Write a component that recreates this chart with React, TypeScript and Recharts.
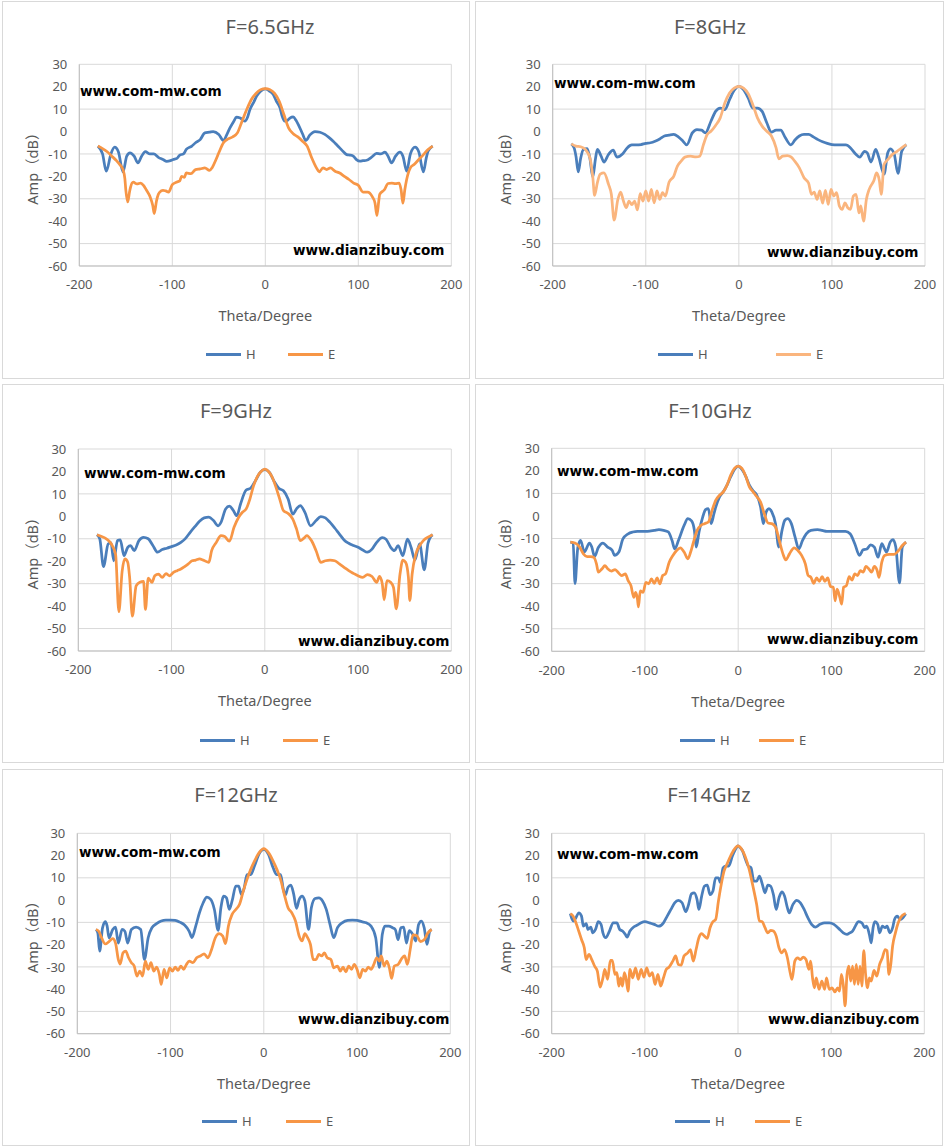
import { LineChart, Line, XAxis, YAxis, CartesianGrid } from 'recharts';

const THETA_TICKS = [-200, -100, 0, 100, 200];
const AMP_TICKS = [-60, -50, -40, -30, -20, -10, 0, 10, 20, 30];

// [theta (deg), amplitude (dB)]
const h65: number[][] = [
  [-180, -6.5], [-175, -10], [-171, -17.7], [-166, -10], [-162, -7], [-158, -9], [-153, -18], [-149, -11],
  [-145.5, -9.5], [-141, -11], [-137, -14], [-133, -11], [-129, -9], [-124, -10], [-120, -10], [-115, -11.5],
  [-110, -12.5], [-106, -13.3], [-102, -13], [-99, -12.5], [-95, -12], [-92, -10.5], [-88, -10], [-85, -8],
  [-79, -6.5], [-75, -5], [-70, -3.6], [-65, -0.6], [-60, -0.3], [-56, 0], [-50, -1.3], [-45, -4], [-41, -1],
  [-38, 1.6], [-34, 4.5], [-31, 6.4], [-27, 6], [-22, 4.6], [-19, 6.5], [-16.5, 9.8], [-12, 13.5], [-9.3, 15.8],
  [-5, 18], [0, 19], [4, 18.2], [8.6, 16.5], [12, 13.5], [15.8, 10.6], [18, 7], [21, 4.6], [24, 5], [26.5, 6],
  [30, 6.5], [33, 5], [35.5, 3.1], [40, -1], [43.7, -4], [48, -1.5], [53.4, 0], [58.8, -0.3], [64, -1.3],
  [68, -2.5], [73, -4.3], [77, -6], [80, -7.3], [84, -9], [87.5, -10.3], [91, -10.5], [94.6, -11], [98, -12.5],
  [101.8, -13.2], [105, -13], [109, -12.8], [114, -11.5], [119.7, -9.8], [124, -10], [128.7, -9.2], [132, -11],
  [135.8, -14], [140, -11], [144.8, -9.2], [148, -11], [152, -17.7], [156, -10], [161, -7], [165, -9], [170, -18],
  [173, -12], [175, -8.8], [180, -6.5],
];
const e65: number[][] = [
  [-180, -6.5], [-175, -7.6], [-170, -9], [-165, -11], [-160, -13], [-156, -15], [-153, -17], [-151, -21],
  [-150, -26], [-148, -31.4], [-146, -27], [-145, -25], [-142, -22.6], [-138, -23.4], [-134, -23], [-131, -24],
  [-128, -26], [-124, -29], [-121, -33], [-119.4, -36.6], [-117, -31], [-115, -28], [-112, -26.5], [-110, -26.2],
  [-107, -26.5], [-104, -27], [-100, -23.7], [-95, -22.5], [-92, -22], [-90, -20], [-87, -20.5], [-85, -18.5],
  [-80, -18.8], [-75, -17], [-70, -16.7], [-65, -16.2], [-60, -17.3], [-57, -16], [-53, -12.5], [-50, -9.5],
  [-45, -5], [-40, -3.3], [-35, -2.4], [-30, -0.6], [-25, 4.6], [-20, 9.8], [-15, 14.3], [-10, 17], [-5, 18.7],
  [0, 19.2], [5, 18.7], [10, 17], [15, 13.5], [20, 7.6], [25, 1.6], [30, -1], [35, -2.4], [40, -4.3], [45, -6.5],
  [50, -11.8], [55, -16.2], [58, -18], [62, -16.2], [66, -17], [70, -16.2], [75, -17.7], [80, -18.5], [85, -20],
  [90, -21.4], [95, -23], [100, -24], [105, -27], [110, -27], [115, -29], [118, -32], [120, -37.5], [122, -31],
  [123, -28], [128, -26], [132, -23.2], [136, -23], [140, -23.2], [144, -23], [146, -26], [148, -32], [150, -26],
  [152, -21.4], [156, -16.2], [160, -14.7], [165, -12.5], [170, -10.3], [175, -8], [180, -6.5],
];

const h8: number[][] = [
  [-180, -5.5], [-177, -7.3], [-175, -11], [-172.5, -18], [-170, -12], [-167, -8], [-163, -7.6], [-160, -12],
  [-157, -20.3], [-154, -12], [-152, -8], [-148, -11], [-145, -13.6], [-140, -10.2], [-135, -8.3], [-131, -11.4],
  [-125, -10], [-120, -7.3], [-115, -6], [-110, -6], [-105, -5.8], [-100, -5.3], [-95, -5], [-90, -4.3],
  [-85, -3.3], [-80, -2], [-75, -1.6], [-70, -1.3], [-65, -2.4], [-60, -4.3], [-56, -6], [-50, -0.6], [-45, 0.9],
  [-40, 0.6], [-36, -0.6], [-30, 4.6], [-25, 9], [-20, 10.5], [-15, 9.8], [-10, 14.2], [-5, 18.4], [0, 20.2],
  [5, 18.7], [10, 15], [15, 10.5], [20, 10.5], [25, 9], [30, 3.9], [35, -0.3], [40, 0.6], [45, 0.6], [50, -2.8],
  [56, -6], [60, -3.9], [65, -2], [70, -1.3], [75, -1.3], [80, -2.4], [85, -3.6], [90, -4.6], [95, -5.3],
  [100, -5.8], [105, -6], [110, -6], [115, -6], [120, -7.3], [125, -9.8], [130, -11.4], [135, -8.8], [138, -9.5],
  [142, -13.6], [147, -8], [150, -11], [156, -19], [160, -9.5], [163, -7.7], [167, -10.2], [171, -18.7],
  [175, -8.8], [180, -5.8],
];
const e8: number[][] = [
  [-180, -5.5], [-175, -6.5], [-170, -6.8], [-165, -8], [-160, -11.7], [-157, -20], [-155, -28.5], [-152, -22.8],
  [-149, -19], [-145, -18.5], [-140, -23.6], [-137, -28], [-134, -39.5], [-130, -30.3], [-127, -27], [-124, -31],
  [-121, -34], [-118, -31], [-115, -32.6], [-112, -31], [-109, -35], [-106, -27.7], [-103, -31], [-100, -26.5],
  [-97, -31], [-94, -25.8], [-91, -31.8], [-88, -26.5], [-85, -30.3], [-82, -27.3], [-79, -28.8], [-75, -22.6],
  [-70, -20], [-66, -15.4], [-62, -13.2], [-58, -11.4], [-52, -11], [-46, -11.3], [-42, -11], [-38, -5.8],
  [-34, -1.3], [-30, 0.1], [-25, 2.7], [-20, 6.1], [-15, 12.8], [-10, 17.2], [-5, 19.4], [0, 20.2], [5, 19.4],
  [10, 16.9], [15, 12], [20, 6.1], [25, 2.4], [30, 0.1], [35, -2], [40, -7.3], [43, -12.2], [47, -11], [52, -10.7],
  [56, -11.3], [60, -13.2], [65, -16.2], [70, -20.6], [75, -23.1], [78, -28], [81, -27], [84, -30.3], [87, -26.5],
  [90, -32], [93, -26.2], [96, -32.5], [99, -25.8], [102, -28.8], [105, -27.3], [108, -33.2], [111, -34.7],
  [114, -31.8], [117, -34], [120, -34.7], [123, -28.8], [126, -28], [129, -36.3], [131, -33.2], [134, -40],
  [137, -30.3], [140, -25.8], [145, -22], [148, -18.5], [151, -22], [153, -28], [156, -14.7], [160, -12.5],
  [165, -10.2], [170, -8.8], [175, -7.3], [180, -5.8],
];

const h9: number[][] = [
  [-180, -8.2], [-177, -10], [-173, -22.4], [-168, -12.3], [-165, -11.7], [-162, -19.8], [-158, -10.8],
  [-155, -10.5], [-151, -17.5], [-147, -13.8], [-144, -13], [-140, -15.3], [-135, -10.8], [-130, -9.4],
  [-125, -10], [-120, -13], [-115, -16], [-110, -14.8], [-105, -14.2], [-100, -13.5], [-95, -12.8], [-90, -11.6],
  [-85, -9.8], [-80, -7.1], [-75, -4.6], [-70, -2.2], [-65, -0.7], [-60, -0.4], [-55, -1.9], [-50, -4.2],
  [-47, -2.7], [-42, 3.3], [-38, 4.5], [-34, 2.8], [-30, 0.3], [-26, 5.5], [-20, 11.7], [-15, 12.6], [-10, 15.9],
  [-5, 19.6], [0, 20.8], [5, 19.6], [10, 15.6], [15, 12.5], [20, 11.4], [25, 7.7], [30, 1], [34, 3.3], [38, 4.8],
  [43, 1.8], [49, -4.2], [55, -1.9], [60, -0.1], [65, -0.7], [70, -2.7], [75, -5.2], [80, -7.9], [85, -10.5],
  [90, -12], [95, -13], [100, -13.8], [105, -15], [110, -16], [115, -14.6], [120, -11.6], [126, -9.5],
  [130, -10.2], [135, -13.8], [139, -15.3], [143, -13], [148, -17.5], [153, -10.2], [157, -14], [161, -19.5],
  [166, -12.3], [171, -23.8], [175, -12], [178, -9], [180, -8.2],
];
const e9: number[][] = [
  [-180, -8.2], [-175, -9], [-170, -10], [-165, -12], [-160, -17], [-156.5, -42.5], [-153, -24.5], [-150, -19],
  [-147, -20.5], [-145, -27], [-142, -44.5], [-138, -31], [-134, -29.4], [-130, -29], [-128, -41.5],
  [-125, -27.5], [-121, -29.4], [-118, -26.5], [-114, -25.7], [-110, -27.2], [-106, -25.5], [-102, -26.5],
  [-98, -25], [-94, -24.2], [-90, -23.5], [-86, -22.4], [-82, -21.2], [-78, -19.8], [-74, -19.5], [-70, -19],
  [-66, -19.5], [-60, -20.5], [-57, -15.3], [-52, -11.6], [-47, -8.6], [-43, -9], [-38, -11.1], [-33, -4.9],
  [-28, -0.4], [-24, 1.8], [-20, 3.3], [-16, 7.7], [-12, 13.7], [-8, 17.7], [-4, 20], [0, 21], [4, 20], [8, 17.4],
  [12, 12.9], [16, 7.7], [20, 2.5], [25, 1.3], [30, -1.2], [34, -5.6], [38, -10.8], [42, -9.7], [45, -8.6],
  [50, -10.8], [55, -15.3], [60, -20.5], [65, -19.8], [70, -19.5], [75, -19.8], [80, -21.2], [85, -22.7],
  [90, -24.2], [95, -25.4], [100, -26.5], [105, -27.2], [110, -26], [115, -26.8], [120, -29.4], [123, -26.8],
  [126, -30.1], [128, -37.2], [131, -28.6], [135, -29.4], [138, -31.6], [141, -41.2], [145, -25.7], [148, -19.5],
  [151, -20.5], [154, -27.2], [155.5, -37.5], [158, -25.7], [162, -16.8], [166, -13.1], [170, -10.8],
  [175, -9.3], [180, -8.2],
];

const h10: number[][] = [
  [-180, -11.6], [-177, -12], [-175, -30], [-172, -14], [-169, -10.8], [-165, -16], [-159.5, -12], [-157, -13.8],
  [-154, -18], [-150, -14], [-145, -12], [-140, -13.8], [-135, -15.3], [-132.6, -17.5], [-128, -16],
  [-123.6, -10.2], [-118, -7.9], [-113, -7.1], [-108, -6.8], [-100, -6.8], [-95, -6.7], [-90, -6.4], [-85, -6.1],
  [-80, -6.4], [-75, -7.1], [-71, -10.8], [-68, -14.6], [-64, -10.8], [-58, -4.2], [-54, -1.2], [-50, -2.2],
  [-47, -6.4], [-45, -13.8], [-42, -7.1], [-38, -0.4], [-35, 2.8], [-32, 3.3], [-29, -3.4], [-26, 1], [-24, 4],
  [-20, 8.5], [-16, 10.7], [-12, 13.7], [-8, 17.4], [-4, 20.6], [0, 22.1], [4, 20.6], [8, 17.7], [12, 13.7],
  [16, 11.1], [20, 9.2], [24, 4], [27, -3.4], [30, 1.8], [33, 3.3], [36, 1.8], [40, -3.4], [43.5, -13.8],
  [47, -6.4], [50, -1.9], [53, -1.2], [57, -3.4], [61, -9.4], [65, -14.6], [69, -10.8], [73, -7.9], [78, -6.4],
  [85, -6.1], [90, -6.4], [95, -6.8], [100, -6.8], [105, -6.8], [110, -6.8], [115, -6.8], [120, -7.9],
  [125, -12.3], [130, -17.5], [134, -15], [138, -14.6], [142, -12.8], [146, -13.8], [150, -18.3], [154, -12.3],
  [157, -14.6], [159, -16], [163, -11.6], [166, -10.5], [169, -13.8], [173, -29.7], [176, -13.8], [180, -11.6],
];
const e10: number[][] = [
  [-180, -11.6], [-175, -12], [-170, -13.8], [-166, -16.8], [-162, -18], [-158, -18], [-155, -18.3],
  [-152, -21.2], [-150, -24.9], [-146, -23.4], [-143, -22], [-140, -23.4], [-136, -24.4], [-132, -23.8],
  [-128, -25.4], [-125, -26.4], [-121, -25.7], [-118, -28.7], [-115, -30.9], [-112, -36.1], [-110, -33.9],
  [-108, -36.9], [-107, -40.3], [-105, -33.2], [-102, -33.9], [-99, -29.4], [-96, -30.1], [-93, -27.9],
  [-90, -29.9], [-87, -27.5], [-84, -30.1], [-81, -26.4], [-78, -25.7], [-74, -20.5], [-70, -17.5], [-66, -15.3],
  [-62, -14.1], [-58, -16], [-54, -19], [-51, -16], [-48, -11.6], [-44, -6.4], [-40, -4.2], [-36, -3.4],
  [-32, -2.7], [-28, 2.5], [-24, 7], [-20, 9.2], [-16, 10.7], [-12, 13.7], [-8, 18.1], [-4, 21.1], [0, 22.1],
  [4, 21.1], [8, 17.7], [12, 12.9], [16, 10.7], [20, 8.5], [24, 6.2], [28, 1], [32, -3.1], [36, -3.4], [40, -4.9],
  [44, -10.8], [48, -16.8], [51, -19.5], [55, -16.8], [60, -14.1], [64, -15.3], [68, -17.5], [72, -21.2],
  [75, -26.4], [78, -27.2], [81, -29.9], [84, -27.5], [87, -29], [90, -26.9], [93, -29], [96, -27.5], [99, -31.3],
  [102, -31.6], [104, -37.6], [106, -32.4], [109, -36.1], [111, -39.1], [113, -31.6], [116, -30.9], [119, -26.9],
  [122, -28.4], [125, -25.7], [128, -26.4], [131, -24.2], [134, -24.9], [137, -22.4], [140, -23.4], [143, -24.9],
  [146, -22.4], [149, -24.2], [151, -27.2], [154, -20.5], [157, -17.5], [162, -17], [167, -17], [172, -15.3],
  [176, -13.1], [180, -11.6],
];

const h12: number[][] = [
  [-180, -13.2], [-178, -14.7], [-176, -22.9], [-173, -12.6], [-170, -9.7], [-168, -11.7], [-166, -17],
  [-162, -13.2], [-159, -12.1], [-156, -19.3], [-152, -13.2], [-149, -14], [-146, -19.3], [-142, -13.2],
  [-137, -12.1], [-132, -13.2], [-128, -26.7], [-124, -16.9], [-120, -12.4], [-115, -10.6], [-110, -9.4],
  [-105, -9], [-100, -9], [-95, -9.1], [-90, -9.9], [-85, -11.2], [-80, -14], [-77, -16.8], [-73, -11.7],
  [-69, -5.7], [-65, -1.2], [-61, 1.3], [-57, 0.3], [-53, -4.2], [-49, -13.6], [-46, -3.4], [-43, 1.8], [-40, 1],
  [-37, -4.2], [-34, -0.4], [-30, 6.3], [-27, 6.3], [-24, 2.5], [-21, 5.5], [-18, 11.4], [-14, 11.4], [-10, 15.3],
  [-5, 20.8], [0, 22.8], [5, 20.5], [10, 14.5], [14, 11.4], [18, 11.4], [21, 4.8], [23, 2.2], [26, 5.8], [29, 6.7],
  [32, 2.8], [35, -3.7], [38, 0.3], [41, 1.8], [44, -0.4], [48, -13.2], [51, -3.4], [55, 0.7], [59, 1], [63, -0.4],
  [67, -4.2], [71, -10.9], [75, -16.9], [79, -12.4], [84, -10.2], [90, -9.1], [95, -9], [100, -9.1], [105, -9.7],
  [110, -10.2], [115, -11.7], [120, -16.9], [124, -30.2], [127, -15.6], [130, -11.7], [134, -11.7], [138, -12.4],
  [141, -13.2], [144, -17.8], [147, -12.4], [150, -12.1], [153, -19.3], [156, -13.7], [160, -15.6], [163, -18.4],
  [166, -11], [169, -9.4], [172, -12.4], [175, -19.9], [178, -14], [180, -13.2],
];
const e12: number[][] = [
  [-180, -13.2], [-177, -14], [-174, -16.9], [-170, -19.7], [-166, -18.6], [-162, -17.3], [-159, -19.3],
  [-156, -26.7], [-154, -28.7], [-151, -23.7], [-148, -22.9], [-145, -25.9], [-142, -28.1], [-139, -29.6],
  [-136, -34.1], [-133, -31.9], [-130, -34.1], [-127, -27.4], [-124, -31.1], [-121, -28.1], [-118, -31.9],
  [-115, -30.1], [-112, -33.4], [-110, -37.9], [-107, -31.1], [-104, -34.9], [-101, -30.4], [-98, -31.9],
  [-95, -30.1], [-92, -31.6], [-89, -29.6], [-86, -31.1], [-83, -28.9], [-80, -27.4], [-76, -28.1], [-72, -25.9],
  [-68, -25.1], [-64, -24.1], [-60, -25.9], [-56, -22.2], [-52, -16.9], [-48, -15.1], [-44, -16.2], [-41, -19.6],
  [-38, -11.7], [-34, -6.4], [-30, -4.2], [-26, -1.9], [-22, 4], [-18, 9.3], [-14, 13.8], [-10, 17.5], [-5, 21.3],
  [0, 23.1], [5, 21.3], [10, 17.5], [14, 13.8], [18, 9.3], [22, 2.5], [26, -3.4], [30, -5.7], [34, -9.4],
  [38, -16.2], [41, -18.3], [44, -15.1], [47, -16.9], [50, -19.9], [53, -26.7], [56, -26.7], [59, -24.4],
  [62, -25.1], [65, -23.7], [68, -25.9], [72, -26.7], [75, -30.4], [79, -29.6], [82, -31.9], [85, -30.1],
  [88, -32.2], [91, -29.6], [94, -31.1], [97, -28.9], [100, -31.1], [103, -34.9], [106, -31.1], [109, -31.9],
  [112, -30.1], [115, -31.1], [118, -28.9], [121, -25.9], [124, -27.4], [126, -25.1], [129, -29.6], [132, -27.4],
  [135, -31.1], [137, -35.2], [140, -29.6], [144, -28.9], [148, -26.2], [151, -25.1], [154, -28.9], [157, -22.2],
  [160, -15.6], [164, -15.9], [168, -18.6], [172, -17.8], [176, -14.7], [180, -13.2],
];

const h14: number[][] = [
  [-180, -6.1], [-177, -9.4], [-174, -7.9], [-171, -5.7], [-168, -7.2], [-166, -11.7], [-163, -10.6],
  [-161, -13.2], [-158, -12.1], [-156, -14.7], [-153, -13.2], [-150, -9.7], [-147, -10.9], [-145, -14.7],
  [-142, -16.9], [-138, -13.9], [-134, -10.2], [-130, -10.2], [-127, -13.2], [-124, -13.9], [-121, -15.4],
  [-119, -16.6], [-116, -13.9], [-112, -12.1], [-108, -11.2], [-104, -10.2], [-100, -9.7], [-95, -10.2],
  [-90, -10.9], [-85, -11.7], [-80, -10.2], [-76, -7.2], [-72, -4.2], [-68, -1.2], [-64, -0.1], [-60, -1.2],
  [-56, -5.2], [-53, -1.9], [-50, 2.8], [-47, 3.3], [-44, 0.3], [-42, -4.2], [-39, 1.8], [-36, 6.3], [-33, 6.7],
  [-30, 2.5], [-27, 4], [-24, 10], [-21, 10], [-19, 7.8], [-16, 14.5], [-13, 15.3], [-10, 15.3], [-6, 19.8],
  [-3, 22.6], [0, 24.3], [3, 23.2], [5, 22], [8, 18.3], [11, 15.3], [14, 14.5], [17, 8.5], [20, 8.5], [23, 10.8],
  [26, 7.3], [29, 3.3], [32, 6.7], [35, 6.3], [38, 2.5], [41, -4.2], [44, 1], [47, 3.7], [50, 1.8], [53, -3.4],
  [55, -5.7], [59, -1.9], [63, -0.1], [67, -1.2], [71, -4.2], [75, -7.9], [79, -10.9], [83, -12.1], [88, -10.9],
  [93, -10.2], [98, -10.2], [103, -10.9], [108, -12.7], [113, -14.7], [117, -15.4], [120, -14.7], [123, -13.9],
  [126, -11.7], [129, -9.7], [133, -10.2], [136, -12.4], [138, -11.7], [141, -15.4], [143, -19.2], [145, -12.4],
  [147, -9.7], [150, -10.9], [152, -14.7], [155, -11.7], [158, -12.4], [160, -11.7], [163, -14.7], [166, -12.4],
  [168, -8.7], [171, -7.2], [174, -8.7], [177, -7.9], [180, -6.1],
];
const e14: number[][] = [
  [-180, -6.1], [-177, -7.2], [-174, -10.2], [-171, -13.9], [-168, -17.7], [-165, -21.4], [-163, -26.7],
  [-160, -24.4], [-157, -26.7], [-154, -29.6], [-151, -31.9], [-148, -39.1], [-145, -34.9], [-143, -31.1],
  [-140, -35.6], [-137, -27.1], [-135, -27.1], [-132, -33.4], [-130, -32.6], [-128, -38.6], [-126, -34.9],
  [-124, -38.6], [-122, -32.6], [-120, -35.6], [-118, -40.9], [-116, -31.1], [-113, -34.9], [-110, -30.4],
  [-107, -35.6], [-104, -31.1], [-101, -34.6], [-98, -30.4], [-95, -34.1], [-92, -32.6], [-89, -37.9],
  [-86, -33.4], [-83, -38.6], [-80, -34.9], [-77, -31.1], [-74, -30.1], [-70, -27.4], [-67, -25.1], [-64, -28.9],
  [-61, -29.2], [-58, -25.1], [-54, -23.7], [-51, -22.2], [-48, -27.4], [-45, -22.2], [-42, -16.9], [-39, -15.1],
  [-36, -16.2], [-33, -17.2], [-30, -12.4], [-27, -9.7], [-24, -8.7], [-21, -0.4], [-18, 7], [-15, 13], [-12, 16],
  [-8, 19.8], [-4, 22.8], [0, 24.3], [4, 22.8], [8, 19.3], [12, 13.8], [16, 6.3], [20, -1.9], [23, -9.4],
  [26, -9.7], [29, -12.4], [32, -14.7], [35, -13.6], [38, -13.9], [41, -16.2], [44, -21.4], [47, -23.7],
  [50, -22.2], [53, -25.9], [56, -32.6], [58, -35.6], [61, -27.4], [64, -25.9], [67, -26.7], [70, -25.6],
  [73, -26.7], [76, -31.1], [78, -27.4], [80, -34.9], [82, -39.4], [84, -34.9], [87, -40.1], [90, -36.4],
  [93, -40.1], [95, -34.9], [98, -40.1], [101, -39.4], [104, -41.2], [107, -39.4], [109, -40.9], [111, -33.4],
  [113, -37.9], [115, -47.5], [117, -33.4], [119, -29.6], [121, -36.4], [123, -29.6], [125, -37.9], [127, -28.9],
  [129, -37.9], [131, -29.6], [133, -38.6], [135, -22.7], [137, -33.4], [139, -39.4], [141, -34.9], [143, -36.4],
  [146, -31.6], [149, -34.1], [152, -28.9], [155, -25.9], [158, -22.2], [160, -22.7], [162, -33.4], [164, -28.9],
  [166, -20.6], [169, -14.7], [172, -10.2], [175, -7.6], [178, -6.4], [180, -6.1],
];

const BLUE = '#4A7EBB';
const ORANGE = '#F79646';
const PEACH = '#FAB57E';
const GRID = '#d9d9d9';
const AXIS = '#bfbfbf';
const TEXT = '#595959';
const FONT = '"Noto Sans", "Noto Sans CJK SC", sans-serif';
const MARK_FONT = '"DejaVu Sans", Verdana, sans-serif';

const toPoints = (pairs: number[][]) => pairs.map(([t, v]) => ({ t, v }));

// layout in page pixels: panel box, plot rectangle, title centre, watermarks, legend
const panels = [
  {
    title: 'F=6.5GHz', h: h65, e: e65, eColor: ORANGE,
    box: { x: 2, y: 1, w: 468, h: 378 }, plot: { l: 79.3, t: 64.3, r: 451.3, b: 266 },
    titleX: 270, titleY: 27, markA: { x: 80, y: 91 }, markB: { x: 293, y: 250 }, legend: { hx: 206, ex: 288, y: 354 },
  },
  {
    title: 'F=8GHz', h: h8, e: e8, eColor: PEACH,
    box: { x: 475, y: 1, w: 469, h: 378 }, plot: { l: 552.7, t: 64.3, r: 925, b: 266 },
    titleX: 710, titleY: 27, markA: { x: 554, y: 83 }, markB: { x: 767, y: 252 }, legend: { hx: 658, ex: 776, y: 354 },
  },
  {
    title: 'F=9GHz', h: h9, e: e9, eColor: ORANGE,
    box: { x: 2, y: 384, w: 468, h: 379 }, plot: { l: 78.3, t: 449, r: 451.3, b: 651 },
    titleX: 236, titleY: 411, markA: { x: 84, y: 473 }, markB: { x: 298, y: 641 }, legend: { hx: 200, ex: 283, y: 740 },
  },
  {
    title: 'F=10GHz', h: h10, e: e10, eColor: ORANGE,
    box: { x: 475, y: 384, w: 469, h: 379 }, plot: { l: 551.7, t: 448.3, r: 924.7, b: 651.3 },
    titleX: 710, titleY: 411, markA: { x: 557, y: 471 }, markB: { x: 767, y: 639 }, legend: { hx: 680, ex: 759, y: 740 },
  },
  {
    title: 'F=12GHz', h: h12, e: e12, eColor: ORANGE,
    box: { x: 2, y: 769, w: 468, h: 377 }, plot: { l: 77.3, t: 833.3, r: 450.3, b: 1033.7 },
    titleX: 236, titleY: 795, markA: { x: 79, y: 852 }, markB: { x: 298, y: 1019 }, legend: { hx: 202, ex: 286, y: 1121 },
  },
  {
    title: 'F=14GHz', h: h14, e: e14, eColor: ORANGE,
    box: { x: 475, y: 769, w: 468, h: 377 }, plot: { l: 551.7, t: 833.3, r: 924.3, b: 1033.7 },
    titleX: 709, titleY: 795, markA: { x: 557, y: 854 }, markB: { x: 768, y: 1019 }, legend: { hx: 675, ex: 755, y: 1121 },
  },
];

const X_AXIS_H = 40;

const Panel = ({ spec }: { spec: (typeof panels)[number] }) => {
  const { box, plot } = spec;
  const ox = box.x + 1;
  const oy = box.y + 1;
  const innerW = box.w - 2;
  const innerH = box.h - 2;
  const margin = {
    top: plot.t - oy,
    right: innerW - (plot.r - ox),
    left: 0,
    bottom: innerH - (plot.b - oy) - X_AXIS_H,
  };
  const markStyle = {
    position: 'absolute' as const,
    fontFamily: MARK_FONT,
    fontWeight: 'bold' as const,
    fontSize: 13.6,
    lineHeight: '16px',
    color: '#000',
    whiteSpace: 'nowrap' as const,
  };
  const legendItem = (x: number, label: string, color: string) => (
    <div style={{ position: 'absolute', left: x - ox, top: spec.legend.y - oy - 8, height: 16, display: 'flex', alignItems: 'center' }}>
      <span style={{ display: 'inline-block', width: 35, height: 3, background: color }} />
      <span style={{ marginLeft: 5, fontFamily: FONT, fontSize: 13, color: TEXT }}>{label}</span>
    </div>
  );

  return (
    <div
      style={{
        position: 'absolute', left: box.x, top: box.y, width: box.w, height: box.h,
        border: '1px solid #d9d9d9', boxSizing: 'border-box', background: '#fff',
      }}
    >
      <div style={{ position: 'absolute', left: 0, top: 0 }}>
        <LineChart width={innerW} height={innerH} margin={margin}>
          <CartesianGrid stroke={GRID} />
          <XAxis
            type="number"
            dataKey="t"
            domain={[-200, 200]}
            ticks={THETA_TICKS}
            allowDataOverflow
            height={X_AXIS_H}
            tickSize={0}
            tickMargin={14}
            axisLine={{ stroke: AXIS }}
            tick={{ fill: TEXT, fontSize: 13, fontFamily: FONT }}
            label={{ value: 'Theta/Degree', position: 'bottom', offset: 5, fill: TEXT, fontSize: 14.5, fontFamily: FONT }}
          />
          <YAxis
            type="number"
            domain={[-60, 30]}
            ticks={AMP_TICKS}
            allowDataOverflow
            width={plot.l - ox}
            tickSize={0}
            tickMargin={12}
            axisLine={{ stroke: AXIS }}
            tick={{ fill: TEXT, fontSize: 13, fontFamily: FONT }}
            label={{
              value: 'Amp（dB）', angle: -90, position: 'insideLeft', offset: 30,
              fill: TEXT, fontSize: 14.5, fontFamily: FONT, style: { textAnchor: 'middle' },
            }}
          />
          <Line
            data={toPoints(spec.h)}
            dataKey="v"
            name="H"
            type="monotone"
            stroke={BLUE}
            strokeWidth={2.75}
            dot={false}
            isAnimationActive={false}
          />
          <Line
            data={toPoints(spec.e)}
            dataKey="v"
            name="E"
            type="monotone"
            stroke={spec.eColor}
            strokeWidth={2.75}
            dot={false}
            isAnimationActive={false}
          />
        </LineChart>
      </div>
      <div
        style={{
          position: 'absolute', left: spec.titleX - ox - 100, width: 200, top: spec.titleY - oy - 14,
          height: 28, lineHeight: '28px', textAlign: 'center', fontFamily: FONT, fontSize: 20, color: TEXT,
        }}
      >
        {spec.title}
      </div>
      <div style={{ ...markStyle, left: spec.markA.x - ox, top: spec.markA.y - oy - 8 }}>www.com-mw.com</div>
      <div style={{ ...markStyle, left: spec.markB.x - ox, top: spec.markB.y - oy - 8 }}>www.dianzibuy.com</div>
      {legendItem(spec.legend.hx, 'H', BLUE)}
      {legendItem(spec.legend.ex, 'E', spec.eColor)}
    </div>
  );
};

export default function App() {
  return (
    <div style={{ position: 'absolute', left: 0, top: 0, width: 946, height: 1148, background: '#fff' }}>
      {panels.map((p) => (
        <Panel key={p.title} spec={p} />
      ))}
    </div>
  );
}
